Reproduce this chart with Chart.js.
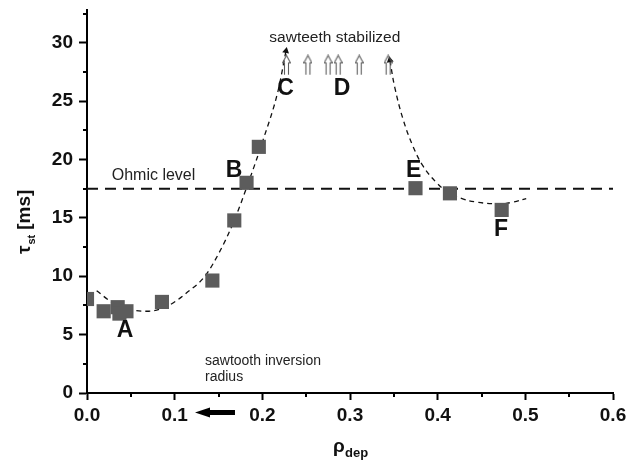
<!DOCTYPE html>
<html>
<head>
<meta charset="utf-8">
<script src="https://cdn.jsdelivr.net/npm/chart.js@4/dist/chart.umd.min.js"></script>
<style>
  html, body { margin: 0; padding: 0; background: #fff; }
  #wrap { width: 643px; height: 461px; }
</style>
</head>
<body>
<div id="wrap"><canvas id="myChart" width="643" height="461"></canvas></div>
<script>
// measured sawtooth period vs deposition radius
const rhoDep = [0.0, 0.019, 0.035, 0.037, 0.045, 0.0855, 0.143, 0.168, 0.182, 0.196, 0.3747, 0.414, 0.473];
const tauSt  = [8.05, 7.0, 7.35, 6.8, 7.0, 7.8, 9.63, 14.78, 18.0, 21.08, 17.54, 17.1, 15.68];

// dashed guide curves
const fitLowRho  = [0.011, 0.03, 0.05, 0.068, 0.092, 0.114, 0.1345, 0.152, 0.167, 0.184, 0.201, 0.218, 0.227];
const fitLowTau  = [8.75, 7.7, 7.15, 7.0, 7.45, 8.6, 10.0, 12.2, 14.6, 18.0, 21.7, 25.9, 29.3];
const fitHighRho = [0.3455, 0.351, 0.3607, 0.372, 0.3836, 0.3988, 0.41, 0.426, 0.4443, 0.471, 0.486, 0.501];
const fitHighTau = [28.5, 26.2, 23.4, 21.1, 19.4, 18.0, 17.3, 16.7, 16.35, 16.2, 16.35, 16.65];

// stabilized cases (hollow arrows)
const stabRho = [0.2275, 0.252, 0.275, 0.2865, 0.3105, 0.3435];
const stabTau = [28.1, 28.1, 28.1, 28.1, 28.1, 28.1];

const ohmicLevel = 17.5;
const xTicks = [0.0, 0.1, 0.2, 0.3, 0.4, 0.5, 0.6];
const yTicks = [0, 5, 10, 15, 20, 25, 30];
const xMinor = [0.05, 0.15, 0.25, 0.35, 0.45, 0.55];
const yMinor = [2.5, 7.5, 12.5, 17.5, 22.5, 27.5, 32.5];

const caseLabels = [
  { text: 'A', x: 0.0433, y: 5.3 },
  { text: 'B', x: 0.1677, y: 19.08 },
  { text: 'C', x: 0.2266, y: 26.05 },
  { text: 'D', x: 0.2909, y: 26.07 },
  { text: 'E', x: 0.3727, y: 19.0 },
  { text: 'F', x: 0.4722, y: 14.0 }
];
const notes = [
  { text: 'sawteeth stabilized', x: 0.2827, y: 30.07, align: 'center', size: 15.5 },
  { text: 'Ohmic level', x: 0.0282, y: 18.26, align: 'left', size: 16 },
  { text: 'sawtooth inversion', x: 0.1346, y: 2.43, align: 'left', size: 14 },
  { text: 'radius', x: 0.1346, y: 1.07, align: 'left', size: 14 }
];

const FONT = '"Liberation Sans", Arial, sans-serif';

function pairs(xs, ys) {
  return xs.map((v, i) => ({ x: v, y: ys[i] }));
}

// hollow up-arrow marker
function makeHollowArrow() {
  const c = document.createElement('canvas');
  c.width = 9; c.height = 21;
  const g = c.getContext('2d');
  g.strokeStyle = '#5e5e5e';
  g.lineWidth = 1.1;
  g.beginPath();
  g.moveTo(2.5, 20.5); g.lineTo(2.5, 8.5); g.lineTo(0.5, 8.5);
  g.lineTo(4.5, 1.0); g.lineTo(8.5, 8.5); g.lineTo(6.5, 8.5); g.lineTo(6.5, 20.5);
  g.stroke();
  return c;
}

function arrowAngle(ctx, tipIndex, fromIndex) {
  const sx = ctx.chart.scales.x, sy = ctx.chart.scales.y;
  const d = ctx.dataset.data;
  if (!d[tipIndex] || !d[fromIndex]) return 0;
  const dx = sx.getPixelForValue(d[tipIndex].x) - sx.getPixelForValue(d[fromIndex].x);
  const dy = sy.getPixelForValue(d[tipIndex].y) - sy.getPixelForValue(d[fromIndex].y);
  return Math.atan2(dx, -dy) * 180 / Math.PI;
}

const extras = {
  id: 'extras',
  afterDraw(chart) {
    const { ctx, chartArea, scales: { x, y } } = chart;
    ctx.save();

    // minor ticks
    ctx.strokeStyle = '#000';
    ctx.lineWidth = 2;
    ctx.beginPath();
    xMinor.forEach(v => {
      const px = Math.round(x.getPixelForValue(v));
      ctx.moveTo(px, chartArea.bottom);
      ctx.lineTo(px, chartArea.bottom + 4);
    });
    yMinor.forEach(v => {
      const py = Math.round(y.getPixelForValue(v));
      ctx.moveTo(chartArea.left, py);
      ctx.lineTo(chartArea.left - 4, py);
    });
    ctx.stroke();

    // case letters
    ctx.fillStyle = '#111';
    ctx.font = 'bold 23px ' + FONT;
    ctx.textAlign = 'center';
    ctx.textBaseline = 'middle';
    caseLabels.forEach(l => {
      ctx.fillText(l.text, x.getPixelForValue(l.x), y.getPixelForValue(l.y));
    });

    // notes
    ctx.fillStyle = '#222';
    ctx.textBaseline = 'alphabetic';
    notes.forEach(n => {
      ctx.font = n.size + 'px ' + FONT;
      ctx.textAlign = n.align;
      ctx.fillText(n.text, x.getPixelForValue(n.x), y.getPixelForValue(n.y));
    });

    // inversion radius arrow below the axis
    const ay = chartArea.bottom + 19.5;
    const ax1 = x.getPixelForValue(0.1688), ax0 = x.getPixelForValue(0.1232);
    ctx.fillStyle = '#000';
    ctx.fillRect(ax0 + 12, ay - 2.5, ax1 - ax0 - 12, 5);
    ctx.beginPath();
    ctx.moveTo(ax0, ay);
    ctx.lineTo(ax0 + 15, ay - 5);
    ctx.lineTo(ax0 + 15, ay + 5);
    ctx.closePath();
    ctx.fill();

    // x title: rho_dep
    ctx.fillStyle = '#111';
    ctx.textAlign = 'left';
    ctx.font = 'bold 19px ' + FONT;
    ctx.fillText('\u03C1', 333, 452);
    ctx.font = 'bold 13px ' + FONT;
    ctx.fillText('dep', 345, 457);

    // y title: tau_st [ms]
    ctx.translate(30, 254);
    ctx.rotate(-Math.PI / 2);
    ctx.font = 'bold 19px ' + FONT;
    ctx.fillText('\u03C4', 0, 0);
    let w = ctx.measureText('\u03C4').width;
    ctx.font = 'bold 11px ' + FONT;
    ctx.fillText('st', w + 1, 5);
    w += ctx.measureText('st').width + 6;
    ctx.font = 'bold 19px ' + FONT;
    ctx.fillText('[ms]', w, 0);

    ctx.restore();
  }
};

const ctx = document.getElementById('myChart').getContext('2d');
const hollowArrow = makeHollowArrow();

const myChart = new Chart(ctx, {
  type: 'scatter',
  data: {
    datasets: [
      {
        label: 'tau_st',
        data: pairs(rhoDep, tauSt),
        pointStyle: 'rect',
        pointRadius: 10,
        pointBorderWidth: 0,
        pointBackgroundColor: '#5c5c5c',
        pointBorderColor: '#5c5c5c',
        showLine: false,
        clip: 0
      },
      {
        label: 'stabilized',
        data: pairs(stabRho, stabTau),
        pointStyle: hollowArrow,
        showLine: false
      },
      {
        label: 'fit low',
        data: pairs(fitLowRho, fitLowTau),
        showLine: true,
        borderColor: '#111',
        borderWidth: 1.3,
        borderDash: [5, 4],
        cubicInterpolationMode: 'monotone',
        pointStyle: 'triangle',
        pointRadius: c => (c.dataIndex === fitLowRho.length - 1 ? 4 : 0),
        pointRotation: c => arrowAngle(c, fitLowRho.length - 1, fitLowRho.length - 2),
        pointBackgroundColor: '#111',
        pointBorderColor: '#111',
        pointBorderWidth: 0
      },
      {
        label: 'fit high',
        data: pairs(fitHighRho, fitHighTau),
        showLine: true,
        borderColor: '#111',
        borderWidth: 1.3,
        borderDash: [5, 4],
        tension: 0.4,
        pointStyle: 'triangle',
        pointRadius: c => (c.dataIndex === 0 ? 4 : 0),
        pointRotation: c => arrowAngle(c, 0, 1),
        pointBackgroundColor: '#111',
        pointBorderColor: '#111',
        pointBorderWidth: 0
      },
      {
        label: 'Ohmic level',
        data: [{ x: 0, y: ohmicLevel }, { x: 0.6, y: ohmicLevel }],
        showLine: true,
        borderColor: '#111',
        borderWidth: 2,
        borderDash: [11, 7],
        pointRadius: 0
      }
    ]
  },
  options: {
    responsive: false,
    animation: false,
    events: [],
    layout: {
      padding: { top: 5, left: 0, right: 30, bottom: 0 }
    },
    scales: {
      x: {
        type: 'linear',
        min: 0,
        max: 0.6,
        afterBuildTicks: s => { s.ticks = xTicks.map(v => ({ value: v })); },
        afterFit: s => { s.height = 68; s.paddingLeft = 0; s.paddingRight = 0; },
        grid: { display: true, drawOnChartArea: false, drawTicks: true, tickLength: 7, tickWidth: 2, tickColor: '#000' },
        border: { display: true, color: '#000', width: 2 },
        ticks: {
          padding: 4,
          color: '#111',
          font: { family: FONT, size: 19, weight: 'bold' },
          callback: v => Number(v).toFixed(1)
        }
      },
      y: {
        type: 'linear',
        min: 0,
        max: 32.8,
        afterBuildTicks: s => { s.ticks = yTicks.map(v => ({ value: v })); },
        afterFit: s => { s.width = 87; s.paddingTop = 0; s.paddingBottom = 0; },
        grid: { display: true, drawOnChartArea: false, drawTicks: true, tickLength: 8, tickWidth: 2, tickColor: '#000' },
        border: { display: true, color: '#000', width: 2 },
        ticks: {
          padding: 6,
          color: '#111',
          font: { family: FONT, size: 19, weight: 'bold' }
        }
      }
    },
    plugins: {
      legend: { display: false },
      tooltip: { enabled: false },
      title: { display: false }
    }
  },
  plugins: [extras]
});
</script>
</body>
</html>
